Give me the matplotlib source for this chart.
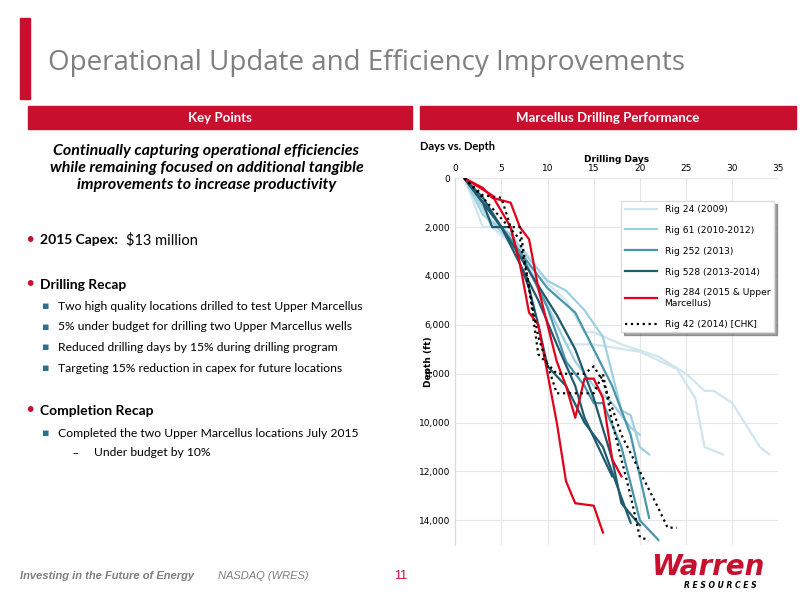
import matplotlib
matplotlib.use("Agg")
import matplotlib.pyplot as plt

# drilling days vs depth, several wells per rig
rig24 = [
    ([1, 3, 5, 8, 10, 12, 14, 15, 18, 22, 25, 27, 28, 30, 33, 34],
     [0, 2000, 2000, 3200, 4300, 5000, 6300, 6300, 6800, 7300, 8000, 8700, 8700, 9200, 11000, 11300]),
    ([1, 4, 7, 9, 11, 12, 15, 20, 24, 26, 27, 29],
     [0, 2000, 3000, 4300, 6000, 6800, 6800, 7100, 7800, 9000, 11000, 11300]),
]
rig61 = [
    ([1, 3, 6, 8, 10, 12, 14, 16, 17, 18, 19, 20, 21],
     [0, 1500, 2300, 3300, 4200, 4600, 5400, 6500, 8000, 9500, 9700, 11000, 11300]),
    ([1, 4, 7, 9, 11, 13, 15, 17, 19, 20],
     [0, 1800, 3000, 4500, 6000, 7500, 8500, 9200, 10200, 10500]),
]
rig252 = [
    ([1, 3, 6, 10, 13, 15, 17, 19, 21],
     [0, 1000, 2500, 4500, 5500, 7000, 8500, 10500, 13900]),
    ([1, 4, 7, 10, 12, 14, 15, 16, 18, 20, 22],
     [0, 1500, 3000, 5300, 7500, 8500, 9200, 9200, 11000, 14000, 14800]),
]
rig528 = [
    ([1, 3, 4, 6, 7, 8, 9, 10, 12, 14, 16, 19],
     [0, 1000, 2000, 2000, 3500, 4500, 6000, 7700, 8500, 10000, 11000, 14100]),
    ([1, 3, 5, 7, 9, 11, 13, 14, 17],
     [0, 800, 2000, 3500, 5000, 6800, 8500, 9800, 12200]),
    ([1, 5, 8, 11, 13, 14, 15, 17, 18, 20],
     [0, 2000, 3800, 5600, 7000, 8000, 9000, 11500, 13300, 14200]),
]
rig284 = [
    ([1, 3, 4, 6, 7, 8, 9, 10, 11, 12, 13, 14, 15, 16, 17, 18],
     [0, 400, 800, 1000, 2000, 2500, 4500, 6000, 7500, 8500, 9800, 8200, 8200, 9000, 11500, 12200]),
    ([1, 4, 6, 7, 8, 9, 10, 11, 12, 13, 15, 16],
     [0, 700, 2000, 3500, 5500, 6000, 8000, 10000, 12400, 13300, 13400, 14500]),
]
rig42 = [
    ([1, 3, 5, 6, 7, 8, 9, 11, 14, 15, 16, 18, 20, 22, 23, 24],
     [0, 700, 800, 2000, 2000, 4500, 7200, 8000, 8000, 7700, 8300, 10500, 12000, 13500, 14300, 14300]),
    ([1, 3, 7, 9, 11, 15, 16, 17, 19, 20, 21],
     [0, 800, 2500, 6500, 8800, 8800, 8000, 10000, 13000, 14700, 14800]),
]

red = "#c8102e"
body = ["Lato", "DejaVu Sans"]
foot = ["Liberation Sans", "DejaVu Sans"]
fig = plt.figure(figsize=(8, 6), dpi=100)
fig.patch.set_facecolor("white")

# title
fig.patches.append(plt.Rectangle((0.025, 0.835), 0.012, 0.135, transform=fig.transFigure, color=red))
fig.text(0.06, 0.895, "Operational Update and Efficiency Improvements", fontsize=20, color="#7f7f7f",
         va="center", family=["Open Sans", "DejaVu Sans"])

# section headers
fig.patches.append(plt.Rectangle((0.035, 0.785), 0.48, 0.038, transform=fig.transFigure, color=red))
fig.text(0.275, 0.804, "Key Points", color="white", fontsize=9.5, fontweight="bold", ha="center", va="center", family=body)
fig.patches.append(plt.Rectangle((0.525, 0.785), 0.47, 0.038, transform=fig.transFigure, color=red))
fig.text(0.76, 0.804, "Marcellus Drilling Performance", color="white", fontsize=9.5, fontweight="bold",
         ha="center", va="center", family=body)

# left text
fig.text(0.258, 0.72, "Continually capturing operational efficiencies\nwhile remaining focused on additional tangible\nimprovements to increase productivity",
         ha="center", va="center", fontsize=11.5, fontweight="bold", style="italic", linespacing=1.3, family=body)
fig.text(0.03, 0.60, "\u2022", color=red, fontsize=14, va="center")
fig.text(0.05, 0.60, "2015 Capex:", fontsize=10, fontweight="bold", va="center", family=body)
fig.text(0.158, 0.60, "$13 million", fontsize=10.5, va="center", family=body)
fig.text(0.03, 0.525, "\u2022", color=red, fontsize=14, va="center")
fig.text(0.05, 0.525, "Drilling Recap", fontsize=10, fontweight="bold", va="center", family=body)
subs = ["Two high quality locations drilled to test Upper Marcellus",
        "5% under budget for drilling two Upper Marcellus wells",
        "Reduced drilling days by 15% during drilling program",
        "Targeting 15% reduction in capex for future locations"]
for i, s in enumerate(subs):
    y = 0.49 - i * 0.0345
    fig.text(0.052, y, "\u25aa", color="#2e6e8e", fontsize=8, va="center")
    fig.text(0.073, y, s, fontsize=8.7, va="center", family=body)
fig.text(0.03, 0.315, "\u2022", color=red, fontsize=14, va="center")
fig.text(0.05, 0.315, "Completion Recap", fontsize=10, fontweight="bold", va="center", family=body)
fig.text(0.052, 0.278, "\u25aa", color="#2e6e8e", fontsize=8, va="center")
fig.text(0.073, 0.278, "Completed the two Upper Marcellus locations July 2015", fontsize=8.7, va="center", family=body)
fig.text(0.09, 0.245, "\u2013", fontsize=8, va="center")
fig.text(0.118, 0.245, "Under budget by 10%", fontsize=8.7, va="center", family=body)

# footer
fig.text(0.025, 0.04, "Investing in the Future of Energy", fontsize=8, style="italic", fontweight="bold",
         color="#7f7f7f", va="center", family=foot)
fig.text(0.272, 0.04, "NASDAQ (WRES)", fontsize=8, style="italic", color="#7f7f7f", va="center", family=foot)
fig.text(0.493, 0.04, "11", fontsize=9, color=red, va="center", family=foot)
fig.text(0.885, 0.055, "Warren", fontsize=20, style="italic", fontweight="bold", color=red, ha="center", va="center")
fig.text(0.90, 0.025, "R E S O U R C E S", fontsize=5.5, style="italic", fontweight="bold", ha="center", va="center")

# chart
fig.text(0.525, 0.755, "Days vs. Depth", fontsize=8, fontweight="bold", va="center", family=body)
ax = fig.add_axes([0.569, 0.092, 0.404, 0.611])
styles = [(rig24, "#cfe6ee", "-", "Rig 24 (2009)"),
          (rig61, "#9fd0e0", "-", "Rig 61 (2010-2012)"),
          (rig252, "#4a95ab", "-", "Rig 252 (2013)"),
          (rig528, "#1f5a6e", "-", "Rig 528 (2013-2014)"),
          (rig284, "#e3001b", "-", "Rig 284 (2015 & Upper\nMarcellus)"),
          (rig42, "black", ":", "Rig 42 (2014) [CHK]")]
for wells, c, ls, lab in styles:
    for i, (d, dep) in enumerate(wells):
        ax.plot(d, dep, color=c, linestyle=ls, linewidth=1.6,
                label=lab if i == 0 else None)
ax.set_xlim(0, 35)
ax.set_ylim(15000, 0)
ax.set_xticks(range(0, 36, 5))
ax.set_yticks(range(0, 15000, 2000))
ax.set_yticklabels(["0", "2,000", "4,000", "6,000", "8,000", "10,000", "12,000", "14,000"])
ax.xaxis.tick_top()
ax.xaxis.set_label_position("top")
ax.set_xlabel("Drilling Days", fontsize=6.5, fontweight="bold", labelpad=2)
ax.set_ylabel("Depth (ft)", fontsize=6.5, fontweight="bold", labelpad=-10)
ax.tick_params(labelsize=6.5, length=0)
ax.grid(color="#e6e6e6", linewidth=0.8)
for s in ax.spines.values():
    s.set_visible(False)
ax.spines["left"].set_visible(True)
ax.spines["left"].set_color("#d9d9d9")
ax.legend(loc="upper right", bbox_to_anchor=(1.0, 0.95), fontsize=6.6, frameon=True, shadow=True,
          fancybox=False, edgecolor="#dddddd", labelspacing=1.3, handlelength=3.5)

fig.savefig("out.png", dpi=100)
